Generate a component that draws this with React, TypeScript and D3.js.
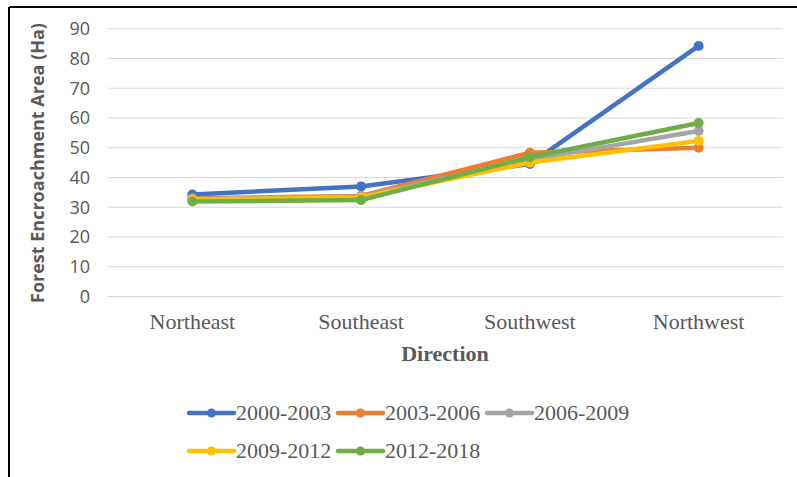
import React from "react";
import * as d3 from "d3";

const categories = ["Northeast", "Southeast", "Southwest", "Northwest"];
const seriesNames = ["2000-2003", "2003-2006", "2006-2009", "2009-2012", "2012-2018"];
const s2000_2003 = [34.3, 37, 44.5, 84.2];
const s2003_2006 = [33, 33.8, 48.3, 50];
const s2006_2009 = [32.8, 33.6, 46, 55.6];
const s2009_2012 = [32.6, 33.3, 45, 52.3];
const s2012_2018 = [31.9, 32.4, 46.8, 58.3];
const seriesColors = ["#4472C4", "#ED7D31", "#A5A5A5", "#FFC000", "#70AD47"];
const yTicks = [0, 10, 20, 30, 40, 50, 60, 70, 80, 90];

const allSeries = [s2000_2003, s2003_2006, s2006_2009, s2009_2012, s2012_2018];

export default function App() {
  const W = 797, H = 477;
  const x = d3.scaleBand().domain(categories).range([108, 783]);
  const y = d3.scaleLinear().domain([0, 90]).range([296.5, 28.7]);
  const line = d3.line<number>()
    .x((_, i) => (x(categories[i]) as number) + x.bandwidth() / 2)
    .y((d) => y(d));
  const legendPos = [
    { x: 189, y: 413 }, { x: 338, y: 413 }, { x: 487, y: 413 },
    { x: 189, y: 451 }, { x: 338, y: 451 },
  ];
  return (
    <svg width={W} height={H} style={{ position: "absolute", left: 0, top: 0, background: "#fff" }}>
      <rect x={0} y={0} width={W} height={H} fill="#fff" />
      <line x1={9} y1={7} x2={W} y2={7} stroke="#000" strokeWidth={2} />
      <line x1={9} y1={7} x2={9} y2={H} stroke="#000" strokeWidth={2} />
      {yTicks.map((t) => (
        <g key={t}>
          <line x1={108} x2={783} y1={y(t)} y2={y(t)} stroke="#D9D9D9" strokeWidth={1} />
          <text x={90} y={y(t)} dy="0.36em" textAnchor="end" fontFamily="Open Sans, sans-serif" fontSize={18} fill="#595959">{t}</text>
        </g>
      ))}
      <text transform={`translate(44,${163}) rotate(-90)`} textAnchor="middle" fontFamily="Open Sans, sans-serif" fontSize={18} fontWeight="bold" fill="#595959">Forest Encroachment Area (Ha)</text>
      {categories.map((c) => (
        <text key={c} x={(x(c) as number) + x.bandwidth() / 2} y={329} textAnchor="middle" fontFamily="Liberation Serif, serif" fontSize={22} fill="#595959">{c}</text>
      ))}
      <text x={445} y={361} textAnchor="middle" fontFamily="Liberation Serif, serif" fontSize={22} fontWeight="bold" fill="#595959">Direction</text>
      {allSeries.map((s, si) => (
        <g key={si}>
          <path d={line(s) || ""} fill="none" stroke={seriesColors[si]} strokeWidth={4.5} strokeLinejoin="round" strokeLinecap="round" />
          {s.map((v, i) => (
            <circle key={i} cx={(x(categories[i]) as number) + x.bandwidth() / 2} cy={y(v)} r={5} fill={seriesColors[si]} />
          ))}
        </g>
      ))}
      {seriesNames.map((n, i) => (
        <g key={n}>
          <line x1={legendPos[i].x} x2={legendPos[i].x + 45} y1={legendPos[i].y} y2={legendPos[i].y} stroke={seriesColors[i]} strokeWidth={4.5} strokeLinecap="round" />
          <circle cx={legendPos[i].x + 22.5} cy={legendPos[i].y} r={4.5} fill={seriesColors[i]} />
          <text x={legendPos[i].x + 47} y={legendPos[i].y} dy="0.34em" fontFamily="Liberation Serif, serif" fontSize={22} fill="#595959">{n}</text>
        </g>
      ))}
    </svg>
  );
}
